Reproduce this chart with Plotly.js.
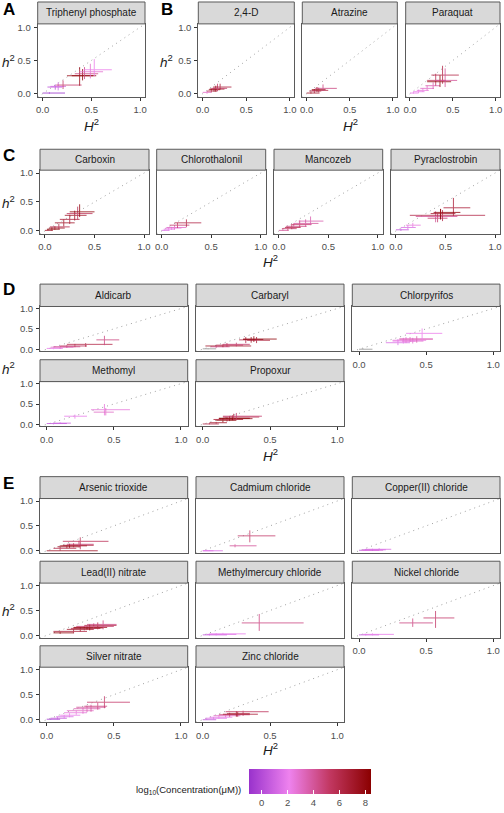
<!DOCTYPE html>
<html>
<head>
<meta charset="utf-8">
<script src="https://cdn.plot.ly/plotly-3.0.1.min.js"></script>
<style>html,body{margin:0;padding:0;background:#fff;}#chart{width:504px;height:813px;}</style>
</head>
<body>
<div id="chart"></div>
<script>
// ---------------- DATA ----------------
// each row: [H2, h2, H2_low, H2_high, h2_low, h2_high, log10(concentration uM)]  (null conc = grey)
const tickVals = [0, 0.5, 1];
const tickText = ['0.0', '0.5', '1.0'];
const concTicks = [0, 2, 4, 6, 8];
const concRange = [-0.95, 8.46];
const axisRange = [-0.05, 1.05];

const panelNames = ['Triphenyl phosphate', '2,4-D', 'Atrazine', 'Paraquat',
  'Carboxin', 'Chlorothalonil', 'Mancozeb', 'Pyraclostrobin',
  'Aldicarb', 'Carbaryl', 'Chlorpyrifos', 'Methomyl', 'Propoxur',
  'Arsenic trioxide', 'Cadmium chloride', 'Copper(II) chloride', 'Lead(II) nitrate',
  'Methylmercury chloride', 'Nickel chloride', 'Silver nitrate', 'Zinc chloride'];

const triphenylPhosphate = [
  [0.07,0.01,0.00,0.23,0.00,0.02,-0.9],
  [0.13,0.10,0.05,0.20,0.06,0.14,0.3],
  [0.16,0.11,0.08,0.24,0.05,0.17,1.2],
  [0.21,0.13,0.14,0.40,0.07,0.20,5.0],
  [0.38,0.27,0.25,0.52,0.12,0.40,7.5],
  [0.41,0.27,0.30,0.55,0.20,0.37,8.2],
  [0.43,0.30,0.33,0.57,0.22,0.40,4.5],
  [0.49,0.33,0.38,0.62,0.23,0.45,2.8],
  [0.53,0.36,0.42,0.71,0.26,0.52,2.2]];
const twoFourD = [
  [0.05,0.02,0.00,0.10,0.00,0.04,3.0],
  [0.10,0.04,0.05,0.17,0.02,0.07,6.0],
  [0.13,0.06,0.07,0.20,0.03,0.09,7.0],
  [0.15,0.07,0.08,0.25,0.03,0.12,8.0],
  [0.17,0.08,0.10,0.28,0.04,0.15,5.0],
  [0.20,0.10,0.12,0.33,0.06,0.15,6.5]];
const atrazine = [
  [0.05,0.01,0.00,0.15,0.00,0.03,7.0],
  [0.09,0.04,0.03,0.17,0.01,0.07,6.0],
  [0.12,0.06,0.06,0.22,0.03,0.10,8.0],
  [0.14,0.05,0.06,0.25,0.02,0.09,6.0],
  [0.19,0.08,0.10,0.35,0.04,0.14,4.5]];
const paraquat = [
  [0.04,0.01,0.00,0.10,0.00,0.03,2.0],
  [0.10,0.03,0.04,0.17,0.01,0.06,2.2],
  [0.15,0.05,0.08,0.22,0.03,0.08,2.5],
  [0.20,0.08,0.12,0.28,0.05,0.12,3.0],
  [0.27,0.12,0.18,0.35,0.07,0.17,3.5],
  [0.30,0.20,0.20,0.42,0.12,0.30,5.5],
  [0.35,0.18,0.20,0.48,0.10,0.28,8.0],
  [0.38,0.28,0.25,0.57,0.15,0.42,6.0],
  [0.41,0.20,0.30,0.55,0.10,0.38,4.0]];
const carboxin = [
  [0.03,0.01,0.00,0.08,0.00,0.03,7.0],
  [0.07,0.03,0.02,0.15,0.01,0.06,8.0],
  [0.10,0.05,0.04,0.20,0.02,0.08,7.5],
  [0.14,0.07,0.05,0.25,0.03,0.12,6.0],
  [0.19,0.14,0.10,0.30,0.08,0.20,7.0],
  [0.25,0.20,0.15,0.35,0.12,0.28,6.5],
  [0.30,0.27,0.20,0.42,0.18,0.35,7.0],
  [0.33,0.30,0.22,0.48,0.20,0.42,5.5],
  [0.35,0.33,0.25,0.50,0.24,0.46,8.0]];
const chlorothalonil = [
  [0.03,0.01,0.00,0.08,0.00,0.02,1.5],
  [0.07,0.03,0.02,0.13,0.01,0.05,2.0],
  [0.10,0.05,0.04,0.20,0.02,0.07,2.5],
  [0.13,0.06,0.05,0.25,0.02,0.10,3.0],
  [0.16,0.10,0.08,0.28,0.05,0.14,5.0],
  [0.25,0.14,0.13,0.40,0.07,0.20,6.0]];
const mancozeb = [
  [0.04,0.01,0.00,0.10,0.00,0.03,4.0],
  [0.09,0.04,0.03,0.18,0.01,0.07,5.0],
  [0.13,0.06,0.06,0.22,0.03,0.10,6.0],
  [0.15,0.08,0.07,0.28,0.04,0.13,4.5],
  [0.21,0.11,0.12,0.33,0.06,0.18,5.0],
  [0.27,0.13,0.15,0.40,0.07,0.20,4.0],
  [0.32,0.17,0.20,0.45,0.10,0.25,3.5]];
const pyraclostrobin = [
  [0.05,0.02,0.00,0.13,0.00,0.04,0.5],
  [0.12,0.06,0.05,0.20,0.03,0.10,1.5],
  [0.17,0.10,0.10,0.25,0.07,0.14,2.5],
  [0.40,0.25,0.20,0.62,0.15,0.34,4.0],
  [0.42,0.22,0.32,0.52,0.15,0.30,5.0],
  [0.45,0.30,0.35,0.60,0.20,0.38,7.0],
  [0.47,0.27,0.14,0.90,0.17,0.36,6.0],
  [0.58,0.40,0.48,0.75,0.26,0.57,6.5],
  [0.45,0.32,0.38,0.65,0.20,0.38,8.0]];
const aldicarb = [
  [0.05,0.02,0.00,0.12,0.00,0.04,2.0],
  [0.10,0.05,0.03,0.20,0.01,0.08,3.0],
  [0.15,0.06,0.05,0.25,0.03,0.10,4.0],
  [0.21,0.08,0.10,0.30,0.05,0.13,5.5],
  [0.29,0.12,0.15,0.49,0.06,0.15,6.0],
  [0.43,0.23,0.37,0.54,0.10,0.33,4.5]];
const carbaryl = [
  [0.04,0.01,0.00,0.10,0.00,0.02,null],
  [0.10,0.06,0.06,0.20,0.03,0.10,4.0],
  [0.15,0.08,0.02,0.36,0.05,0.12,7.0],
  [0.18,0.10,0.10,0.30,0.06,0.15,5.5],
  [0.25,0.12,0.15,0.35,0.07,0.16,5.0],
  [0.32,0.23,0.27,0.40,0.15,0.30,6.0],
  [0.36,0.24,0.30,0.45,0.16,0.30,7.0],
  [0.38,0.25,0.30,0.55,0.18,0.32,8.0],
  [0.40,0.22,0.33,0.50,0.15,0.30,6.5]];
const chlorpyrifos = [
  [0.03,0.00,0.00,0.10,0.00,0.02,null],
  [0.29,0.16,0.20,0.38,0.10,0.25,1.5],
  [0.33,0.20,0.25,0.42,0.14,0.28,2.0],
  [0.35,0.22,0.25,0.50,0.15,0.30,2.5],
  [0.38,0.25,0.30,0.55,0.18,0.30,3.0],
  [0.40,0.20,0.32,0.48,0.14,0.28,2.8],
  [0.43,0.25,0.30,0.55,0.16,0.32,3.5],
  [0.47,0.39,0.35,0.62,0.20,0.51,2.2]];
const methomyl = [
  [0.05,0.02,0.00,0.15,0.00,0.04,0.5],
  [0.10,0.03,0.05,0.18,0.01,0.05,1.0],
  [0.21,0.20,0.13,0.30,0.14,0.24,2.0],
  [0.43,0.36,0.33,0.62,0.22,0.50,2.5],
  [0.44,0.30,0.35,0.50,0.22,0.40,3.0]];
const propoxur = [
  [0.05,0.01,0.00,0.12,0.00,0.03,6.0],
  [0.10,0.04,0.05,0.18,0.02,0.06,7.0],
  [0.15,0.10,0.10,0.25,0.05,0.15,8.0],
  [0.18,0.12,0.08,0.30,0.07,0.18,6.5],
  [0.20,0.14,0.12,0.37,0.08,0.20,7.5],
  [0.22,0.15,0.12,0.35,0.10,0.22,8.5],
  [0.23,0.18,0.15,0.42,0.10,0.26,6.0],
  [0.25,0.20,0.15,0.44,0.12,0.28,5.0]];
const arsenicTrioxide = [
  [0.10,0.00,0.00,0.38,0.00,0.02,7.0],
  [0.10,0.05,0.05,0.22,0.02,0.08,6.0],
  [0.15,0.08,0.08,0.25,0.05,0.11,7.0],
  [0.17,0.10,0.10,0.30,0.06,0.14,8.0],
  [0.20,0.11,0.12,0.35,0.07,0.15,6.5],
  [0.24,0.13,0.15,0.35,0.07,0.20,5.0],
  [0.25,0.19,0.12,0.46,0.03,0.27,5.5]];
const cadmiumChloride = [
  [0.03,0.00,0.00,0.08,0.00,0.02,2.0],
  [0.05,0.00,0.00,0.15,0.00,0.01,1.5],
  [0.24,0.10,0.20,0.40,0.07,0.13,4.0],
  [0.35,0.30,0.26,0.54,0.17,0.41,5.0]];
const copperChloride = [
  [0.05,0.01,0.00,0.15,0.00,0.03,0.5],
  [0.08,0.01,0.02,0.18,0.00,0.03,2.5],
  [0.10,0.02,0.03,0.20,0.00,0.04,1.0],
  [0.15,0.03,0.05,0.24,0.01,0.05,1.5]];
const leadNitrate = [
  [0.10,0.05,0.05,0.20,0.03,0.07,8.0],
  [0.20,0.08,0.05,0.30,0.04,0.12,6.5],
  [0.25,0.12,0.15,0.35,0.08,0.16,7.0],
  [0.28,0.14,0.18,0.40,0.10,0.18,6.0],
  [0.30,0.15,0.20,0.42,0.12,0.18,8.0],
  [0.32,0.16,0.20,0.45,0.10,0.22,7.5],
  [0.35,0.18,0.22,0.50,0.12,0.24,5.0],
  [0.38,0.20,0.28,0.52,0.12,0.26,6.0],
  [0.42,0.22,0.30,0.52,0.12,0.30,4.5]];
const methylmercuryChloride = [
  [0.05,0.01,0.00,0.18,0.00,0.03,0.5],
  [0.10,0.02,0.03,0.25,0.00,0.04,1.5],
  [0.15,0.03,0.05,0.32,0.01,0.05,2.0],
  [0.42,0.25,0.29,0.75,0.09,0.43,4.5]];
const nickelChloride = [
  [0.05,0.01,0.00,0.15,0.00,0.03,0.5],
  [0.10,0.02,0.03,0.26,0.00,0.04,2.0],
  [0.40,0.25,0.30,0.55,0.17,0.34,4.5],
  [0.57,0.35,0.48,0.71,0.15,0.49,5.0]];
const silverNitrate = [
  [0.03,0.01,0.00,0.10,0.00,0.02,-0.5],
  [0.08,0.03,0.03,0.15,0.01,0.05,0.5],
  [0.13,0.06,0.07,0.20,0.03,0.09,1.5],
  [0.17,0.09,0.10,0.25,0.05,0.13,2.0],
  [0.22,0.14,0.13,0.30,0.10,0.18,2.5],
  [0.27,0.18,0.15,0.35,0.12,0.24,3.0],
  [0.30,0.22,0.20,0.40,0.15,0.28,3.5],
  [0.33,0.25,0.22,0.44,0.16,0.30,4.0],
  [0.38,0.27,0.28,0.45,0.20,0.34,4.5],
  [0.43,0.35,0.30,0.62,0.23,0.47,5.0]];
const zincChloride = [
  [0.03,0.00,0.00,0.10,0.00,0.02,0.5],
  [0.08,0.03,0.02,0.18,0.01,0.05,1.5],
  [0.12,0.05,0.05,0.22,0.02,0.08,2.0],
  [0.17,0.08,0.08,0.28,0.05,0.11,3.0],
  [0.20,0.10,0.12,0.35,0.06,0.14,5.0],
  [0.25,0.12,0.18,0.35,0.06,0.17,7.0],
  [0.26,0.11,0.15,0.41,0.06,0.16,6.5],
  [0.30,0.16,0.17,0.49,0.08,0.18,5.5]];

const panelData = [triphenylPhosphate, twoFourD, atrazine, paraquat,
  carboxin, chlorothalonil, mancozeb, pyraclostrobin,
  aldicarb, carbaryl, chlorpyrifos, methomyl, propoxur,
  arsenicTrioxide, cadmiumChloride, copperChloride, leadNitrate,
  methylmercuryChloride, nickelChloride, silverNitrate, zincChloride];

// ---------------- LAYOUT GEOMETRY (pixels) ----------------
const W = 504, H = 813;
const rowAB = {st: 2, y0: 24, y1: 97.5};
const rowC = {st: 150, y0: 171, y1: 235};
const rowD1 = {st: 285.5, y0: 308, y1: 353};
const rowD2 = {st: 361.5, y0: 383.5, y1: 428.5};
const rowE1 = {st: 479, y0: 501, y1: 556};
const rowE2 = {st: 564, y0: 586, y1: 641};
const rowE3 = {st: 649, y0: 670.5, y1: 725.8};
const c3 = [[40, 187.7], [196, 344], [352.3, 500]];
const geom = [
  {c: [37.7, 145], r: rowAB, X: 1, Y: 1},
  {c: [198.3, 294.3], r: rowAB, X: 1, Y: 1},
  {c: [302.3, 397.3], r: rowAB, X: 1, Y: 0},
  {c: [405.7, 500], r: rowAB, X: 1, Y: 0},
  {c: [40, 149], r: rowC, X: 1, Y: 1},
  {c: [156.7, 265.7], r: rowC, X: 1, Y: 0},
  {c: [274, 382.7], r: rowC, X: 1, Y: 0},
  {c: [391, 500], r: rowC, X: 1, Y: 0},
  {c: c3[0], r: rowD1, X: 0, Y: 1},
  {c: c3[1], r: rowD1, X: 0, Y: 0},
  {c: c3[2], r: rowD1, X: 1, Y: 0},
  {c: c3[0], r: rowD2, X: 1, Y: 1},
  {c: c3[1], r: rowD2, X: 1, Y: 0},
  {c: c3[0], r: rowE1, X: 0, Y: 1},
  {c: c3[1], r: rowE1, X: 0, Y: 0},
  {c: c3[2], r: rowE1, X: 0, Y: 0},
  {c: c3[0], r: rowE2, X: 0, Y: 1},
  {c: c3[1], r: rowE2, X: 0, Y: 0},
  {c: c3[2], r: rowE2, X: 1, Y: 0},
  {c: c3[0], r: rowE3, X: 1, Y: 1},
  {c: c3[1], r: rowE3, X: 1, Y: 0}
];

const colorStops = [[0, [153, 50, 204]], [0.33, [238, 130, 238]], [0.66, [194, 56, 98]], [1, [139, 0, 0]]];
const colorscale = colorStops.map(s => [s[0], 'rgb(' + s[1].join(',') + ')']);
function concColor(c) {
  if (c === null || c === undefined) return 'rgb(150,150,150)';
  let t = (c - concRange[0]) / (concRange[1] - concRange[0]);
  t = Math.max(0, Math.min(1, t));
  for (let i = 1; i < colorStops.length; i++) {
    if (t <= colorStops[i][0]) {
      const a = colorStops[i - 1], b = colorStops[i];
      const f = (t - a[0]) / (b[0] - a[0]);
      const rgb = a[1].map((v, k) => Math.round(v + (b[1][k] - v) * f));
      return 'rgb(' + rgb.join(',') + ')';
    }
  }
  return 'rgb(139,0,0)';
}

const px = v => v / W;
const py = v => 1 - v / H;
const FONT = 'Liberation Sans, Arial, sans-serif';

const traces = [];
const layout = {
  width: W, height: H,
  margin: {l: 0, r: 0, t: 0, b: 0},
  paper_bgcolor: '#ffffff', plot_bgcolor: '#ffffff',
  showlegend: false,
  font: {family: FONT, color: '#1a1a1a'},
  shapes: [], annotations: []
};

geom.forEach((g, i) => {
  const n = i + 1;
  const xa = 'x' + (n === 1 ? '' : n), ya = 'y' + (n === 1 ? '' : n);
  const xkey = 'xaxis' + (n === 1 ? '' : n), ykey = 'yaxis' + (n === 1 ? '' : n);
  const common = {
    range: axisRange, showgrid: false, zeroline: false,
    showline: true, mirror: true, linecolor: '#5a5a5a', linewidth: 1,
    ticklen: 3, tickcolor: '#333333', tickwidth: 1,
    tickvals: tickVals, ticktext: tickText,
    tickfont: {size: 9.5, color: '#4d4d4d', family: FONT},
    fixedrange: true
  };
  layout[xkey] = Object.assign({}, common, {
    domain: [px(g.c[0]), px(g.c[1])], anchor: ya,
    ticks: g.X ? 'outside' : '', showticklabels: !!g.X, ticklabelstandoff: 1
  });
  layout[ykey] = Object.assign({}, common, {
    domain: [py(g.r.y1), py(g.r.y0)], anchor: xa,
    ticks: g.Y ? 'outside' : '', showticklabels: !!g.Y, ticklabelstandoff: 1
  });
  // strip
  layout.shapes.push({type: 'rect', xref: 'paper', yref: 'paper',
    x0: px(g.c[0]), x1: px(g.c[1]), y0: py(g.r.y0), y1: py(g.r.st),
    fillcolor: '#d9d9d9', line: {color: '#5a5a5a', width: 1}, layer: 'above'});
  layout.annotations.push({xref: 'paper', yref: 'paper', showarrow: false,
    x: px((g.c[0] + g.c[1]) / 2), y: py((g.r.st + g.r.y0) / 2),
    xanchor: 'center', yanchor: 'middle', text: panelNames[i],
    font: {size: 10, color: '#1a1a1a', family: FONT}});
  // diagonal reference
  traces.push({type: 'scatter', mode: 'lines', xaxis: xa, yaxis: ya,
    x: axisRange, y: axisRange, hoverinfo: 'skip',
    line: {color: '#a0a0a0', width: 1, dash: '1px,4px'}});
  // crosses
  panelData[i].forEach(r => {
    const col = concColor(r[6]);
    traces.push({type: 'scatter', mode: 'markers', xaxis: xa, yaxis: ya,
      x: [r[0]], y: [r[1]], opacity: 0.8, hoverinfo: 'skip',
      marker: {size: 1, color: col, opacity: 0},
      error_x: {type: 'data', symmetric: false, array: [r[3] - r[0]], arrayminus: [r[0] - r[2]],
        color: col, thickness: 1, width: 0},
      error_y: {type: 'data', symmetric: false, array: [r[5] - r[1]], arrayminus: [r[1] - r[4]],
        color: col, thickness: 1, width: 0}
    });
  });
});

// colour bar carrier (invisible markers of panel A data)
traces.push({type: 'scatter', mode: 'markers', xaxis: 'x', yaxis: 'y',
  x: triphenylPhosphate.map(r => r[0]), y: triphenylPhosphate.map(r => r[1]),
  hoverinfo: 'skip',
  marker: {size: 1, opacity: 0, color: triphenylPhosphate.map(r => r[6]),
    colorscale: colorscale, cmin: concRange[0], cmax: concRange[1], showscale: true,
    colorbar: {orientation: 'h', x: px(249.3), xanchor: 'left', y: py(773.3), yanchor: 'top',
      xref: 'paper', yref: 'paper',
      len: 122.4, lenmode: 'pixels', thickness: 25, thicknessmode: 'pixels',
      xpad: 0, ypad: 0, outlinewidth: 0, tickvals: concTicks,
      ticks: 'inside', tickcolor: '#ffffff', ticklen: 4, tickwidth: 1,
      tickfont: {size: 9.5, color: '#4d4d4d', family: FONT}}}
});

// panel letters and axis titles
const letters = [['A', 1, 10], ['B', 159, 10], ['C', 1, 156], ['D', 1, 291], ['E', 1, 486]];
letters.forEach(l => layout.annotations.push({xref: 'paper', yref: 'paper', showarrow: false,
  x: px(l[1]), y: py(l[2]), xanchor: 'left', yanchor: 'middle', text: '<b>' + l[0] + '</b>',
  font: {size: 17, color: '#000000', family: FONT}}));
const hTitles = [[8, 61], [166, 61], [8, 203], [8, 370], [8, 613]];
hTitles.forEach(t => layout.annotations.push({xref: 'paper', yref: 'paper', showarrow: false,
  x: px(t[0]), y: py(t[1]), xanchor: 'center', yanchor: 'middle',
  text: '<i>h</i><sup>2</sup>', font: {size: 13.5, color: '#1a1a1a', family: FONT}}));
const HTitles = [[91, 126], [350, 126], [270, 262], [270, 457], [270, 753]];
HTitles.forEach(t => layout.annotations.push({xref: 'paper', yref: 'paper', showarrow: false,
  x: px(t[0]), y: py(t[1]), xanchor: 'center', yanchor: 'middle',
  text: '<i>H</i><sup>2</sup>', font: {size: 13.5, color: '#1a1a1a', family: FONT}}));
layout.annotations.push({xref: 'paper', yref: 'paper', showarrow: false,
  x: px(243), y: py(794), xanchor: 'right', yanchor: 'middle',
  text: 'log<sub>10</sub>(Concentration(μM))', font: {size: 9.5, color: '#1a1a1a', family: FONT}});

Plotly.newPlot('chart', traces, layout, {staticPlot: true, displayModeBar: false});
</script>
</body>
</html>
